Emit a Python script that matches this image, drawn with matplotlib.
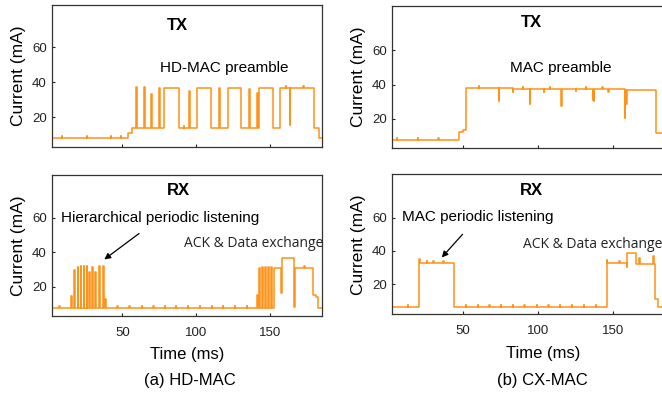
import matplotlib
matplotlib.use("Agg")
import matplotlib.pyplot as plt

plt.rcParams['font.family'] = ['Liberation Sans', 'DejaVu Sans']

# ---------------- data (time in ms, current in mA) ----------------
# (a) HD-MAC, TX
hd_tx_t = [2.6, 53.6, 56.4, 59.5, 60.0, 64.7, 65.2, 69.7, 70.2, 75.1, 75.6, 78.4, 88.4,
           95.0, 95.5, 100.4, 109.8, 115.7, 116.2, 121.3, 130.3, 136.1, 136.6, 141.2,
           141.7, 142.8, 152.3, 156.8, 163.3, 163.8, 180.0, 183.4, 186.0]
hd_tx_i = [8, 11, 14, 37.5, 14, 37, 14, 33, 14, 36.5, 14, 36.5, 14,
           35, 14, 36.5, 14, 36.5, 14, 36.5, 14, 36, 14, 34,
           14, 36.5, 14, 36.5, 15.5, 36.5, 14, 8, 8]
hd_tx_blips = [9.2, 25.9, 42.3, 48.9, 91.8, 160.5, 172.5]

# (a) HD-MAC, RX
hd_rx_t = [2.6, 15.5, 15.9, 17.6, 18.0, 19.8, 20.2, 21.8, 22.2, 23.9, 24.3, 25.9, 26.3,
           27.7, 28.1, 29.5, 29.9, 31.8, 32.2, 34.2, 34.6, 36.9, 37.3, 38.6, 39.0,
           141.4, 141.8, 142.8, 143.2, 144.9, 145.3, 146.9, 147.3, 148.9, 149.3,
           150.9, 151.3, 152.7, 157.6, 158.0, 166.0, 166.7, 179.3, 180.9, 182.3, 186.0]
hd_rx_i = [7.5, 14.5, 7.5, 29.5, 7.5, 31.5, 7.5, 32, 7.5, 32, 7.5, 32, 7.5,
           28.5, 7.5, 31.5, 7.5, 28.5, 7.5, 32, 7.5, 32, 7.5, 13, 7.5,
           15, 7.5, 31, 7.5, 31.5, 7.5, 31.5, 7.5, 31.5, 7.5,
           31.5, 7.5, 31, 16, 36.5, 8, 31, 15, 14, 7.5, 7.5]
hd_rx_blips = [7.3, 46.6, 54.8, 63.1, 70.9, 78.9, 86.3, 94.3, 102.6, 110.5, 118.0,
               126.3, 134.2, 173.2]

# (b) CX-MAC, TX
cx_tx_t = [2.5, 47.3, 50.0, 51.6, 73.7, 74.1, 83.0, 83.3, 94.5, 94.9, 103.9, 104.2,
           115.7, 116.1, 125.2, 125.5, 136.6, 137.0, 137.4, 137.8, 147.0, 147.3,
           158.0, 158.4, 159.2, 159.6, 179.0, 186.0]
cx_tx_i = [7.4, 12, 13.4, 37.8, 30.5, 37.8, 35.5, 37.5, 28.5, 37.5, 35.5, 37.3,
           27.5, 37.3, 36, 37.3, 31, 36, 30.5, 37.3, 35.5, 37.3,
           20.3, 37, 28.5, 37, 11.5, 11.5]
cx_tx_blips = [5.4, 19.5, 33.3, 60.5, 90.0, 108.0, 132.0, 143.0]

# (b) CX-MAC, RX
cx_rx_t = [2.5, 20.4, 20.9, 43.8, 146.0, 146.5, 154.2, 154.7, 159.4, 159.8, 165.4,
           167.8, 168.2, 177.2, 177.6, 178.3, 180.5, 186.0]
cx_rx_i = [6.3, 34.9, 32.8, 6.3, 34.5, 32.8, 34, 32.5, 30.5, 38.5, 32,
           36, 32, 37, 32, 10.9, 6.3, 6.3]
cx_rx_blips = [12.8, 25.5, 30.0, 36.6, 51.8, 59.7, 67.4, 75.3, 83.1, 90.9, 99.1,
               106.9, 114.7, 122.5, 130.8, 138.6]

y_ticks = [20, 40, 60]
x_ticks = [50, 100, 150]

LINE = '#ff9218'


def with_blips(t, i, blips, h=1.1, w=0.25):
    pts = list(zip(t, i))
    for b in blips:
        v = i[0]
        for tk, ik in zip(t, i):
            if tk <= b:
                v = ik
        pts.append((b, v + h))
        pts.append((b + w, v))
    pts.sort(key=lambda p: p[0])
    return [p[0] for p in pts], [p[1] for p in pts]


W, H = 662, 397
fig = plt.figure(figsize=(W / 100, H / 100), dpi=100)


def add_ax(x0, x1, y0, y1):
    return fig.add_axes([x0 / W, 1 - y1 / H, (x1 - x0) / W, (y1 - y0) / H])


ax_a_tx = add_ax(52.3, 322.3, 5, 147)
ax_a_rx = add_ax(52.3, 322.3, 175, 315.7)
ax_b_tx = add_ax(392.3, 694.0, 6, 147.7)
ax_b_rx = add_ax(392.3, 694.0, 174.3, 314.3)

panels = [
    (ax_a_tx, hd_tx_t, hd_tx_i, hd_tx_blips, (2.6, 185.4), (3, 84), False),
    (ax_a_rx, hd_rx_t, hd_rx_i, hd_rx_blips, (2.6, 185.4), (3, 85), True),
    (ax_b_tx, cx_tx_t, cx_tx_i, cx_tx_blips, (2.5, 204.4), (3, 86), False),
    (ax_b_rx, cx_rx_t, cx_rx_i, cx_rx_blips, (2.5, 204.4), (2, 86), True),
]

for ax, t, i, bl, xl, yl, bottom in panels:
    tt, ii = with_blips(t, i, bl)
    ax.plot(tt, ii, drawstyle='steps-post', color=LINE, lw=1.1)
    ax.set_xlim(*xl)
    ax.set_ylim(*yl)
    ax.set_yticks(y_ticks)
    ax.set_xticks(x_ticks)
    ax.tick_params(direction='in', length=2.5, width=0.8, labelsize=9.5,
                   colors='#222222')
    ax.tick_params(axis='y', pad=4)
    ax.tick_params(axis='x', pad=8)
    if not bottom:
        ax.tick_params(labelbottom=False)
    else:
        ax.set_xlabel('Time (ms)', fontsize=12, labelpad=6)
    ax.set_ylabel('Current (mA)', fontsize=12.5, labelpad=4)
    for s in ax.spines.values():
        s.set_color('#333333')
        s.set_linewidth(0.9)

# titles
ax_a_tx.text(87.2, 72.5, 'TX', fontsize=12, fontweight='bold', ha='center', va='center')
ax_b_tx.text(95.3, 76.4, 'TX', fontsize=12, fontweight='bold', ha='center', va='center')
ax_a_rx.text(87.9, 75.8, 'RX', fontsize=12, fontweight='bold', ha='center', va='center')
ax_b_rx.text(95.8, 76.2, 'RX', fontsize=12, fontweight='bold', ha='center', va='center')

# annotations
ax_a_tx.text(118.9, 48, 'HD-MAC preamble', fontsize=11, ha='center', va='center')
ax_b_tx.text(115.4, 49.6, 'MAC preamble', fontsize=11, ha='center', va='center')

ax_a_rx.annotate('Hierarchical periodic listening', xy=(37.8, 35.8), xytext=(75.5, 60),
                 fontsize=11, ha='center', va='center',
                 arrowprops=dict(arrowstyle='-|>', color='black', lw=0.9,
                                 shrinkA=7, shrinkB=0, mutation_scale=9))
ax_b_rx.annotate('MAC periodic listening', xy=(35.6, 36.1), xytext=(59.7, 60.2),
                 fontsize=11, ha='center', va='center',
                 arrowprops=dict(arrowstyle='-|>', color='black', lw=0.9,
                                 shrinkA=7, shrinkB=0, mutation_scale=9))

ax_a_rx.text(91.8, 45.1, 'ACK & Data exchange', fontsize=10, ha='left', va='center',
             family=['Open Sans', 'DejaVu Sans'], color='#222222')
ax_b_rx.text(90.2, 44.1, 'ACK & Data exchange', fontsize=10, ha='left', va='center',
             family=['Open Sans', 'DejaVu Sans'], color='#222222')

# captions
fig.text(190 / W, 1 - 381 / H, '(a) HD-MAC', fontsize=12, ha='center', va='center')
fig.text(542 / W, 1 - 381 / H, '(b) CX-MAC', fontsize=12, ha='center', va='center')

fig.savefig('out.png', dpi=100)
